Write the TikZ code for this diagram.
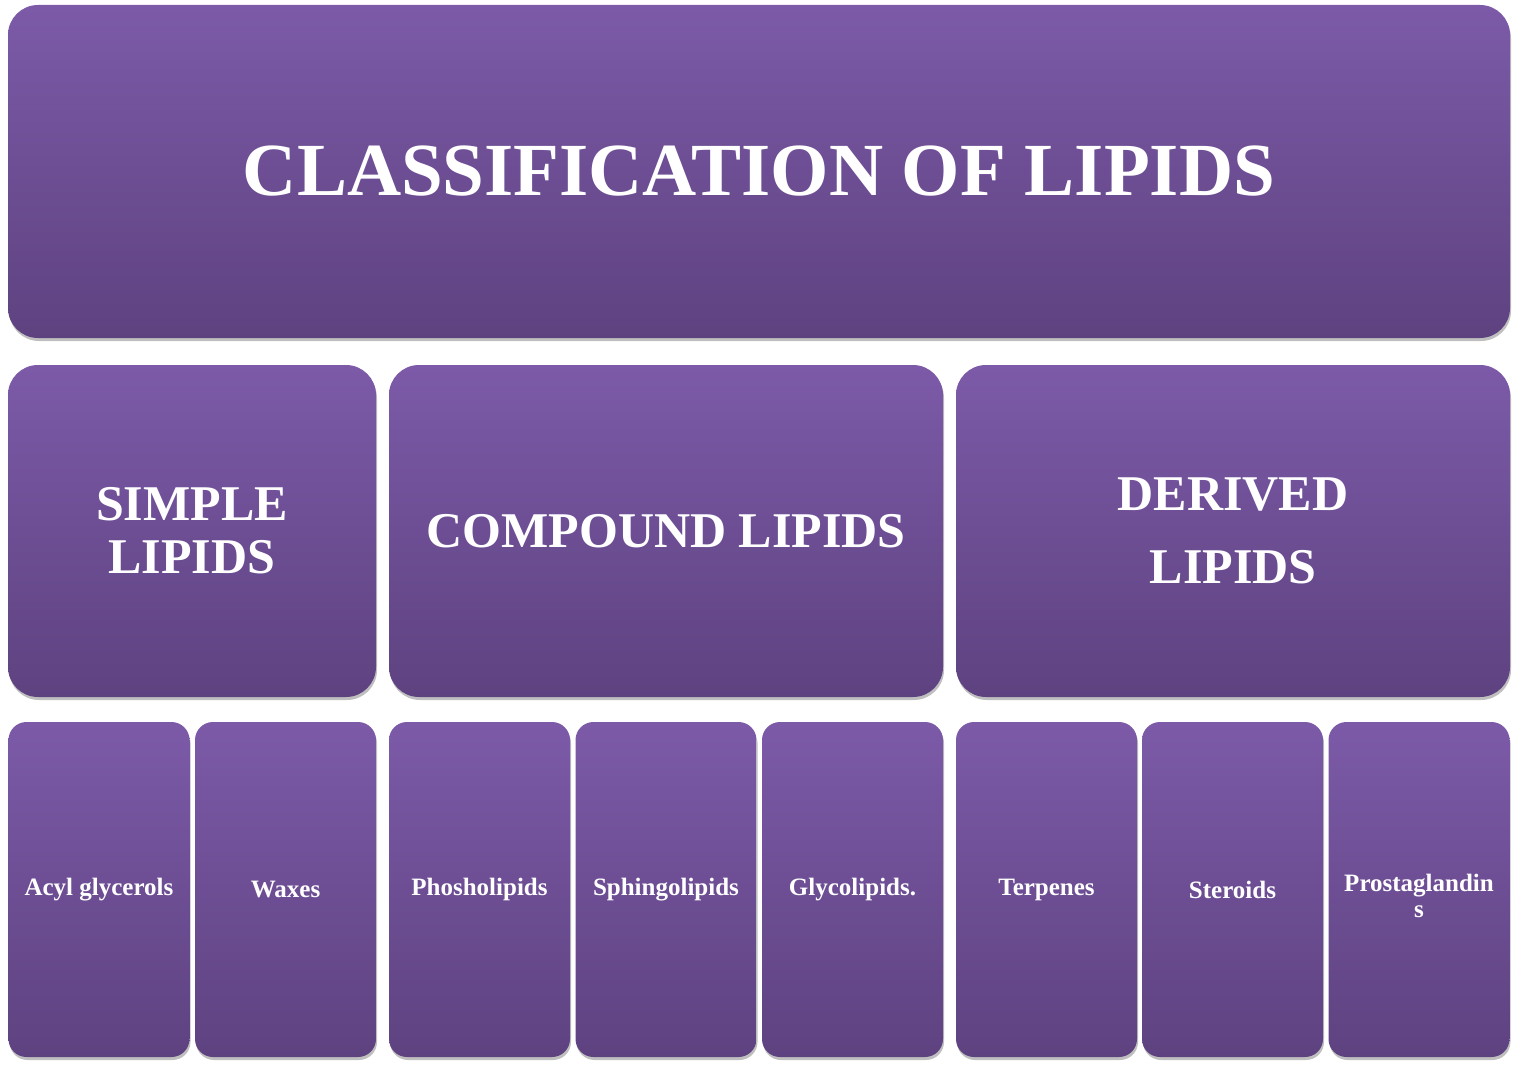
\documentclass[tikz,border=0pt]{standalone}
\usepackage{fontspec}
\setmainfont{Liberation Serif}
\usetikzlibrary{shadows}
\definecolor{lipidtop}{HTML}{7C5AA8}
\definecolor{lipidbot}{HTML}{5E4280}

\begin{document}
\begin{tikzpicture}[x=1pt,y=-1pt,
    box/.style={rectangle,inner sep=0pt,top color=lipidtop,bottom color=lipidbot,
      text=white,font=\bfseries,align=center,
      drop shadow={shadow xshift=1pt,shadow yshift=-3pt,opacity=0.25,fill=black}},
    titlebox/.style={box,rounded corners=30pt,minimum width=1502pt,minimum height=333pt,
      font=\bfseries\fontsize{75}{82}\selectfont},
    groupbox/.style={box,rounded corners=30pt,minimum height=332pt,
      font=\bfseries\fontsize{50}{53}\selectfont},
    itembox/.style={box,rounded corners=18pt,minimum width=181pt,minimum height=335pt,
      font=\bfseries\fontsize{25}{26}\selectfont}]
    \useasboundingbox (0,0) rectangle (1518,1070);
    % top
    \node[titlebox] (title) at (759,171.5) {CLASSIFICATION OF LIPIDS};
    % groups
    \node[groupbox,minimum width=368pt] (simple) at (192,531) {SIMPLE\\LIPIDS};
    \node[groupbox,minimum width=554pt] (compound) at (666,531) {COMPOUND LIPIDS};
    \node[groupbox,minimum width=554pt] (derived) at (1233,531) {DERIVED\\[20pt]LIPIDS};
    % items
    \node[itembox] (acyl) at (99,889.5) {Acyl glycerols};
    \node[itembox] (waxes) at (285.5,889.5) {Waxes};
    \node[itembox] (phospho) at (479.5,889.5) {Phosholipids};
    \node[itembox] (sphingo) at (666,889.5) {Sphingolipids};
    \node[itembox] (glyco) at (852.5,889.5) {Glycolipids.};
    \node[itembox] (terpenes) at (1046.5,889.5) {Terpenes};
    \node[itembox] (steroids) at (1232.5,889.5) {Steroids};
    \node[itembox] (prosta) at (1419,889.5) {\parbox{175pt}{\centering\vspace*{12pt}Prostaglandin\\s}};
\end{tikzpicture}
\end{document}
